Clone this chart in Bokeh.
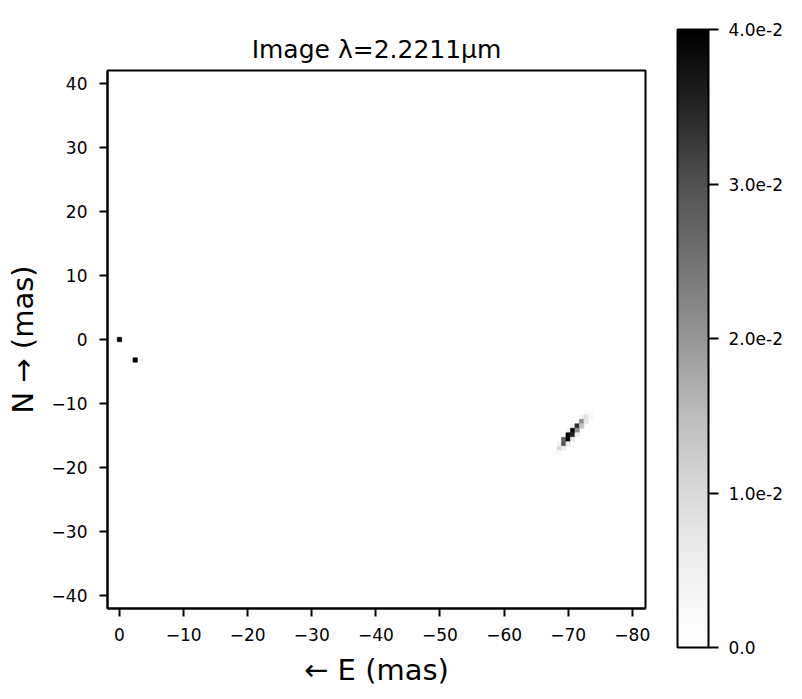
import numpy as np
from bokeh.plotting import figure
from bokeh.models import Range1d, LinearColorMapper, FixedTicker, ColumnDataSource, ColorBar
from bokeh.embed import file_html
from bokeh.resources import INLINE

# ---------------- data ----------------
title_text = "Image λ=2.2211μm"
x_label = "← E (mas)"
y_label = "N → (mas)"

x_ticks = [0, -10, -20, -30, -40, -50, -60, -70, -80]
y_ticks = [-40, -30, -20, -10, 0, 10, 20, 30, 40]
cbar_ticks = [0.0, 0.01, 0.02, 0.03, 0.04]
cbar_labels = ["0.0", "1.0e-2", "2.0e-2", "3.0e-2", "4.0e-2"]

# point-like sources (saturated pixels)
src_x = [0.0, -2.45]
src_y = [0.0, -3.2]
src_val = [0.05, 0.05]

# elongated blob pixels (x, y in mas; flux)
blob_x = [-72.8, -73.5,
          -72.1, -72.8, -73.5,
          -71.4, -72.1, -72.8,
          -70.7, -71.4, -72.1,
          -70.0, -70.7, -71.4,
          -70.0, -70.7, -71.4,
          -69.3, -70.0, -70.7,
          -68.6, -69.3, -70.0,
          -68.6, -69.3,
          -67.9, -68.6]
blob_y = [-11.4, -11.4,
          -12.1, -12.1, -12.1,
          -12.8, -12.8, -12.8,
          -13.5, -13.5, -13.5,
          -14.2, -14.2, -14.2,
          -14.9, -14.9, -14.9,
          -15.6, -15.6, -15.6,
          -16.3, -16.3, -16.3,
          -17.0, -17.0,
          -17.7, -17.7]
blob_val = [0.002, 0.0016,
            0.0032, 0.008, 0.0032,
            0.0032, 0.022, 0.007,
            0.004, 0.034, 0.014,
            0.0032, 0.04, 0.02,
            0.04, 0.036, 0.004,
            0.028, 0.04, 0.006,
            0.004, 0.03, 0.006,
            0.01, 0.005,
            0.002, 0.0032]

pix = 0.7
vmin, vmax = 0.0, 0.04
x_lim = (1.87, -82.06)
y_lim = (-42.0, 42.0)

# matplotlib "Greys" colormap (colorbrewer anchors)
greys9 = ["#ffffff", "#f0f0f0", "#d9d9d9", "#bdbdbd", "#969696",
          "#737373", "#525252", "#252525", "#000000"]

# ---------------- palette ----------------
anchors = np.array([[int(h[i:i + 2], 16) for i in (1, 3, 5)] for h in greys9], dtype=float)
pos = np.linspace(0, 1, len(greys9))
t = np.linspace(0, 1, 256)
rgb = np.stack([np.interp(t, pos, anchors[:, k]) for k in range(3)], axis=1)
palette = ["#%02x%02x%02x" % tuple(int(round(c)) for c in px) for px in rgb]

mapper = LinearColorMapper(palette=palette, low=vmin, high=vmax,
                           low_color=palette[0], high_color=palette[-1])

FONT = "DejaVu Sans"


def minus(v):
    return ("%g" % v).replace("-", "\u2212")


# ---------------- main image ----------------
p = figure(frame_width=538, frame_height=538,
           x_range=Range1d(*x_lim), y_range=Range1d(*y_lim),
           min_border_left=107, min_border_top=70, min_border_right=150,
           min_border_bottom=84,
           output_backend="svg", toolbar_location=None, title=title_text)

src = ColumnDataSource(dict(x=src_x + blob_x, y=src_y + blob_y, v=src_val + blob_val))
p.rect(x="x", y="y", width=pix, height=pix, source=src,
       fill_color={"field": "v", "transform": mapper},
       line_color={"field": "v", "transform": mapper}, line_width=0.5)

p.grid.visible = False
p.background_fill_color = "white"
p.border_fill_color = "white"
p.outline_line_color = "black"
p.outline_line_width = 2
p.outline_line_alpha = 1.0

p.title.align = "center"
p.title.text_font = FONT
p.title.text_font_size = "25px"
p.title.text_font_style = "normal"
p.title.text_color = "black"
p.title.standoff = 14

p.xaxis.ticker = FixedTicker(ticks=x_ticks)
p.yaxis.ticker = FixedTicker(ticks=y_ticks)
p.xaxis.major_label_overrides = {v: minus(v) for v in x_ticks}
p.yaxis.major_label_overrides = {v: minus(v) for v in y_ticks}
for ax in (p.xaxis, p.yaxis):
    ax.axis_line_width = 2
    ax.axis_line_color = "black"
    ax.major_tick_in = 0
    ax.major_tick_out = 8
    ax.major_tick_line_width = 2
    ax.minor_tick_line_color = None
    ax.major_label_text_font = FONT
    ax.major_label_text_font_size = "17px"
    ax.major_label_text_color = "black"
    ax.axis_label_text_font = FONT
    ax.axis_label_text_font_size = "29px"
    ax.axis_label_text_font_style = "normal"
    ax.axis_label_text_color = "black"
p.xaxis.axis_label = x_label
p.yaxis.axis_label = y_label
p.xaxis.major_label_standoff = 11
p.yaxis.major_label_standoff = 12
p.xaxis.axis_label_standoff = 9
p.yaxis.axis_label_standoff = 9

# ---------------- colorbar ----------------
cbar = ColorBar(color_mapper=mapper,
                location=(570, -39), width=31, height=618,
                padding=0, margin=0,
                ticker=FixedTicker(ticks=cbar_ticks),
                major_label_overrides={v: l for v, l in zip(cbar_ticks, cbar_labels)},
                major_tick_in=0, major_tick_out=10,
                major_tick_line_color="black", major_tick_line_width=2,
                minor_tick_line_color=None,
                bar_line_color="black", bar_line_width=2,
                label_standoff=10,
                major_label_text_font=FONT, major_label_text_font_size="17px",
                major_label_text_color="black",
                background_fill_alpha=0, border_line_color=None)
p.add_layout(cbar, "center")

open("out.html", "w").write(file_html(p, INLINE))
